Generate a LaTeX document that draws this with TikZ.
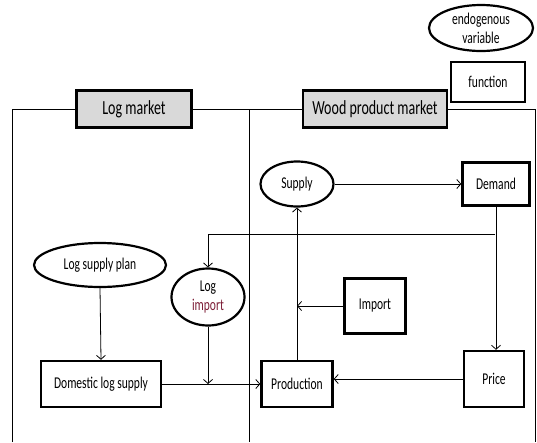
\documentclass[tikz,border=0pt]{standalone}
\usepackage{fontspec}
\setmainfont[FakeStretch=0.7]{Carlito}
\usetikzlibrary{arrows.meta,shapes.geometric}
\definecolor{hdrgray}{RGB}{217,217,217}
\definecolor{importred}{RGB}{125,30,55}
\begin{document}
\begin{tikzpicture}[x=1pt,y=-1pt,
  every node/.style={font=\fontsize{16.5}{19}\selectfont, align=center, inner sep=0pt},
  fbox/.style={draw, line width=2.4pt, rectangle},
  hdr/.style={draw, line width=2.4pt, rectangle, fill=hdrgray, font=\fontsize{20}{22}\selectfont},
  evar/.style={draw, line width=2.2pt, ellipse},
  frame/.style={line width=0.8pt},
  conn/.style={line width=0.8pt, -{Straight Barb[length=4pt,width=9pt,line width=0.8pt]}}
  ]
\useasboundingbox (0,0) rectangle (537,442);
% frame lines
\draw[frame] (12,442) -- (12,109) -- (535,109) -- (535,442);
\draw[frame] (249,109) -- (249,442);
% legend
\node[evar, minimum width=104pt, minimum height=46pt] (endo) at (481,28) {endogenous\\variable};
\node[fbox, minimum width=74pt, minimum height=40pt] (func) at (488,82) {function};
% headers
\node[hdr, minimum width=115pt, minimum height=37pt] (logm) at (134,109) {Log market};
\node[hdr, minimum width=144pt, minimum height=37pt] (woodm) at (375,109) {Wood product market};
% nodes
\node[evar, minimum width=73pt, minimum height=45pt] (supply) at (297,184) {Supply};
\node[fbox, minimum width=67pt, minimum height=43pt] (demand) at (496,184) {Demand};
\node[evar, minimum width=132pt, minimum height=44pt] (lsp) at (100,265) {Log supply plan};
\node[evar, minimum width=73pt, minimum height=57pt] (limp) at (208,297) {Log\\\textcolor{importred}{import}};
\node[fbox, minimum width=61pt, minimum height=55pt] (import) at (375,306) {Import};
\node[fbox, minimum width=120pt, minimum height=46pt] (dom) at (101,384) {Domestic log supply};
\node[fbox, minimum width=71pt, minimum height=46pt] (prod) at (297,384) {Production};
\node[fbox, minimum width=60pt, minimum height=56pt] (price) at (494,379) {Price};
% connectors
\coordinate (fb) at (495,234);
\coordinate (junc) at (limp.south |- dom.east);
\draw[conn] (supply) -- (demand);
\draw[conn] (demand.south) -- (demand.south |- price.north);
\draw[conn] (price.west) -- (price.west -| prod.east);
\draw[conn] (prod.north) -- (supply.south);
\draw[conn] (import.west) -- (import.west -| prod.north);
\draw[conn] (fb) -| (limp.north);
\draw[conn] (lsp.south) -- (dom.north);
\draw[conn] (dom.east) -- (prod.west);
\draw[conn] (limp.south) -- (junc);
\end{tikzpicture}
\end{document}
